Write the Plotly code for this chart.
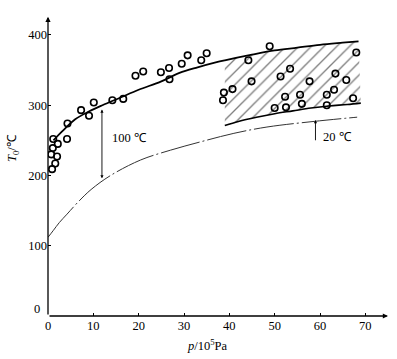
import plotly.graph_objects as go

# ---- data ----
# scattered measurements (p in 1e5 Pa, T0 in degC)
pts_x = [1.15, 1.06, 0.7, 2.16, 2.0, 1.6, 0.9, 4.3, 4.2, 7.3, 9.05, 10.1, 14.2, 16.6,
         19.3, 21.0, 24.9, 26.7, 26.8, 29.5, 30.8, 33.8, 35.0,
         48.9, 44.2, 68.0, 53.4, 51.3, 44.9, 57.7, 63.4, 65.8, 38.8, 40.7, 38.6,
         52.3, 55.6, 61.5, 63.1, 67.3, 50.0, 52.5, 56.0, 61.5]
pts_y = [252, 239, 230, 245, 227, 217, 209, 274, 252, 293, 285, 304, 307, 309,
         342, 348, 347, 353, 337, 359, 371, 364, 374,
         384, 364, 375, 352, 341, 334, 334, 345, 336, 318, 323, 307,
         312, 315, 315, 322, 310, 296, 297, 302, 300]

# upper solid trend curve
upper_x = [1.2, 3, 6, 9, 12, 16, 20, 25, 29, 33, 37, 39, 45, 50, 55, 60, 65, 68.5]
upper_y = [250, 262, 280, 291, 300, 311, 322, 334, 346, 354, 361, 364, 372, 378, 382, 386, 389, 391]

# lower boundary of hatched zone
lower_x = [39, 42, 46, 50, 54, 58, 62, 66, 69]
lower_y = [271, 277, 283, 288, 292, 296, 299, 301, 303]

# dash-dot curve
dd_x = [0, 1.2, 2.5, 4.2, 6.6, 9.5, 13.8, 20.4, 27, 33.7, 41, 48.3, 58.7, 68.2]
dd_y = [112, 122, 133, 145, 162, 180, 200, 222, 236, 248, 260, 269, 277, 283]

x_ticks = [0, 10, 20, 30, 40, 50, 60, 70]
y_ticks = [0, 100, 200, 300, 400]
y_tick_labels = ["", "100", "200", "300", "400"]   # "0" is placed separately, as in the reference

FONT = "Liberation Serif"
FS = 12.5

L, R, T, B = 48, 9.3, 17, 43
PW = 397 - L - R
PH = 359 - T - B

fig = go.Figure()

# hatched zone polygon
hx = [x for x in upper_x if x >= 39] + lower_x[::-1]
hy = [y for x, y in zip(upper_x, upper_y) if x >= 39] + lower_y[::-1]
fig.add_trace(go.Scatter(
    x=hx, y=hy, mode="lines", fill="toself", line=dict(width=0, color="black"),
    fillcolor="rgba(0,0,0,0)",
    fillpattern=dict(shape="/", size=9, solidity=0.15, fgcolor="black", bgcolor="white"),
    hoverinfo="skip", showlegend=False))

fig.add_trace(go.Scatter(x=upper_x, y=upper_y, mode="lines",
                         line=dict(color="black", width=1.8, shape="spline"), showlegend=False))
fig.add_trace(go.Scatter(x=lower_x, y=lower_y, mode="lines",
                         line=dict(color="black", width=1.6, shape="spline"), showlegend=False))
fig.add_trace(go.Scatter(x=dd_x, y=dd_y, mode="lines",
                         line=dict(color="#333333", width=1, shape="spline", dash="40px,3px,2px,3px"),
                         showlegend=False))
fig.add_trace(go.Scatter(x=pts_x, y=pts_y, mode="markers",
                         marker=dict(symbol="circle-open", size=6.5, color="black",
                                     line=dict(width=1.6, color="black")),
                         showlegend=False))

# axis arrows
fig.add_annotation(x=75, y=0, ax=0, ay=0, xref="x", yref="y", axref="x", ayref="y",
                   text="", showarrow=True, arrowhead=2, arrowsize=0.8, arrowwidth=1.3, arrowcolor="black")
fig.add_annotation(x=0, y=426, ax=0, ay=0, xref="x", yref="y", axref="x", ayref="y",
                   text="", showarrow=True, arrowhead=2, arrowsize=0.8, arrowwidth=1.3, arrowcolor="black")

# y-axis "0" label, raised slightly above the x axis as in the reference
fig.add_annotation(x=0, y=y_ticks[0], xref="x", yref="y", text="0", showarrow=False,
                   xanchor="right", yanchor="middle", xshift=-6, yshift=7,
                   font=dict(family=FONT, size=FS, color="black"))

# 100 degC marker arrow
fig.add_annotation(x=11.9, y=196, ax=11.9, ay=296, xref="x", yref="y", axref="x", ayref="y",
                   text="", showarrow=True, arrowhead=2, arrowside="end+start",
                   arrowsize=0.7, arrowwidth=0.9, arrowcolor="black")
fig.add_annotation(x=13.6, y=254, xref="x", yref="y", text="100 ℃", showarrow=False,
                   xanchor="left", yanchor="middle", font=dict(family=FONT, size=FS, color="black"))

# 20 degC marker arrow
fig.add_annotation(x=59.0, y=279, ax=59.0, ay=248, xref="x", yref="y", axref="x", ayref="y",
                   text="", showarrow=True, arrowhead=2, arrowsize=0.7, arrowwidth=0.9, arrowcolor="black")
fig.add_annotation(x=60.2, y=255, xref="x", yref="y", text="20 ℃", showarrow=False,
                   xanchor="left", yanchor="middle", font=dict(family=FONT, size=FS, color="black"))

# axis titles
fig.add_annotation(x=(13 - L) / PW, y=(316 - 148) / PH, xref="x domain", yref="y domain",
                   text="<i>T</i><sub>0</sub>/℃", showarrow=False, textangle=-90,
                   xanchor="center", yanchor="middle",
                   font=dict(family=FONT, size=FS, color="black"))
fig.add_annotation(x=(207 - L) / PW, y=(316 - 345) / PH, xref="x domain", yref="y domain",
                   text="<i>p</i>/10<sup>5</sup>Pa", showarrow=False,
                   xanchor="center", yanchor="middle",
                   font=dict(family=FONT, size=FS, color="black"))

fig.update_layout(
    width=397, height=359,
    margin=dict(l=L, r=R, t=T, b=B),
    paper_bgcolor="white", plot_bgcolor="white",
    font=dict(family=FONT, size=FS, color="black"),
    xaxis=dict(range=[0, 75], tickvals=x_ticks, ticks="inside", ticklen=3, tickcolor="black",
               showgrid=False, zeroline=False, showline=False, automargin=False,
               tickfont=dict(family=FONT, size=FS, color="black")),
    yaxis=dict(range=[0, 425.6], tickvals=y_ticks, ticktext=y_tick_labels,
               ticks="inside", ticklen=3, tickcolor="black",
               showgrid=False, zeroline=False, showline=False, automargin=False,
               tickfont=dict(family=FONT, size=FS, color="black")),
)

fig.write_html("out.html", config={"displayModeBar": False},
               post_script="document.body.style.margin='0px';")
